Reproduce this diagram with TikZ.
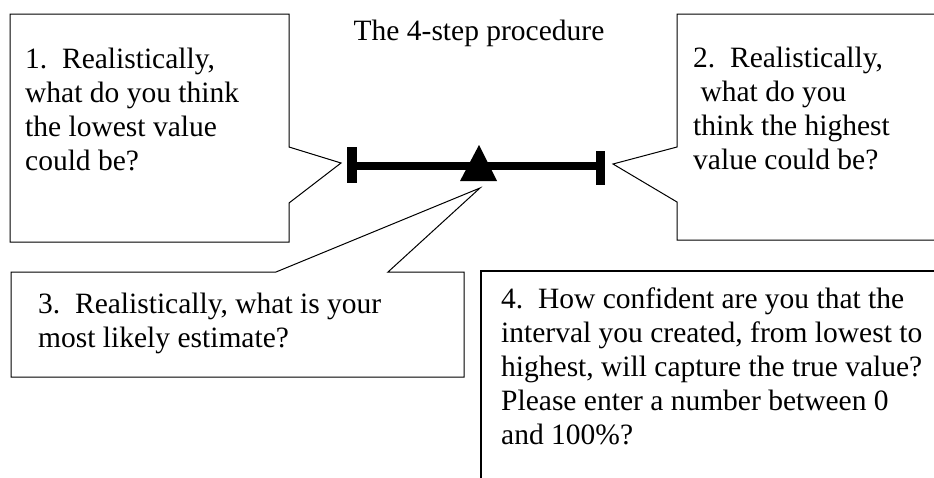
\documentclass[tikz,border=0pt]{standalone}
\usepackage{fontspec}
\setmainfont{Liberation Serif}
\begin{document}
\begin{tikzpicture}[x=1pt,y=-1pt,
  callout/.style={draw=black,line width=1pt,line join=miter,fill=white},
  txt/.style={anchor=base west,inner sep=0pt,align=left,font=\fontsize{29.5}{34}\selectfont},
  barline/.style={line width=8pt},
  tick/.style={fill=black}]
\useasboundingbox (0,0) rectangle (934,477);
\clip (0,0) rectangle (934,477);
% callout 1
\draw[callout] (10,14) -- (289,14) -- (289,147) -- (341,163) -- (289,203) -- (289,242) -- (10,242) -- cycle;
% callout 2
\draw[callout] (940,14) -- (677,14) -- (677,147) -- (613,164) -- (677,202) -- (677,240) -- (940,240);
% callout 3
\draw[callout] (11,272) -- (276,272) -- (480,188) -- (388,272) -- (464,272) -- (464,377) -- (11,377) -- cycle;
% box 4
\draw[line width=1.3pt] (940,271) -- (481,271) -- (481,485);
% bar
\coordinate (barL) at (352,166);
\coordinate (barR) at (600,166);
\draw[barline] (barL) -- (barR);
\fill[tick] (347,147) rectangle (357,183);
\fill[tick] (596,151) rectangle (605,185);
\fill (479,145) -- (497,181) -- (460,181) -- cycle;
% texts (anchor = baseline of last line)
\node[txt,anchor=base] (title) at (479,40) {The 4-step procedure};
\node[txt] (t1) at (25,170) {1.\ \ Realistically,\\what do you think\\the lowest value\\could be?};
\node[txt] (t2) at (693,169) {2.\ \ Realistically,\\\hspace*{0.25em}what do you\\think the highest\\value could be?};
\node[txt] (t3) at (38,347) {3.\ \ Realistically, what is your\\most likely estimate?};
\node[txt] (t4) at (501,444) {4.\ \ How confident are you that the\\interval you created, from lowest to\\highest, will capture the true value?\\Please enter a number between 0\\and 100\%?};
\end{tikzpicture}
\end{document}
